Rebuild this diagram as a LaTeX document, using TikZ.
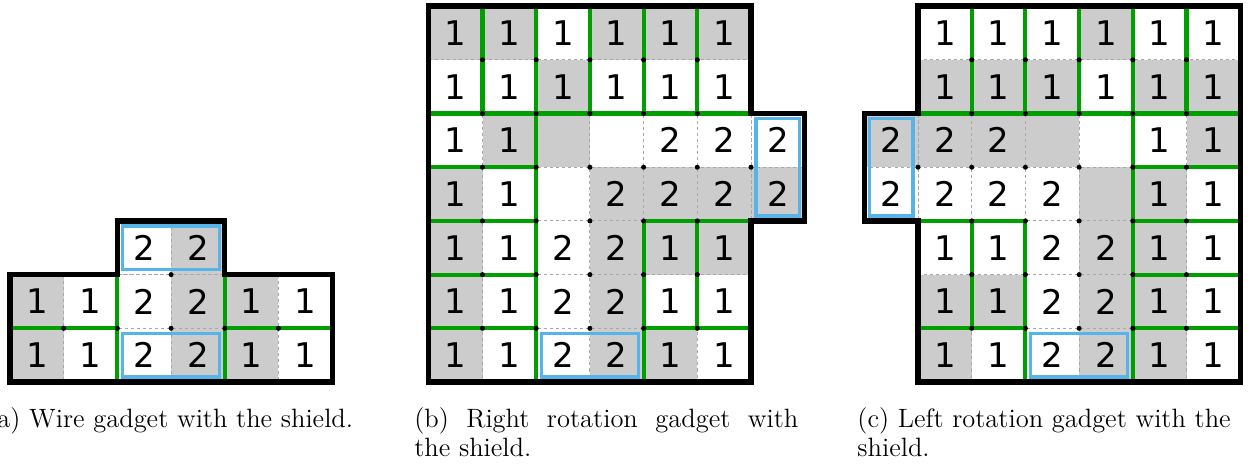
\documentclass[tikz,border=0pt]{standalone}
\usepackage{fontspec}
\newfontfamily\dejavu{DejaVu Sans}
\definecolor{cellgray}{HTML}{CCCCCC}
\definecolor{dashgray}{HTML}{A8A8A8}
\definecolor{wallgreen}{RGB}{0,160,0}
\definecolor{shieldblue}{RGB}{86,180,233}
\tikzset{
  num/.style={font=\dejavu\fontsize{18}{18}\selectfont, inner sep=0pt},
  gridl/.style={draw=dashgray, line width=0.45pt, dash pattern=on 1.6pt off 1.6pt},
  wall/.style={draw=wallgreen, line width=2.2pt, line cap=rect},
  shieldbox/.style={draw=shieldblue, line width=1.8pt},
  outline/.style={draw=black, line width=2.8pt, line join=miter},
  captext/.style={font=\fontsize{14.05}{15}\selectfont, inner sep=0pt},
}
\def\ins{0.095}
\def\dotr{0.047}
\begin{document}
\begin{tikzpicture}
\useasboundingbox (0,0) rectangle (23.296,8.715);

% ---------------- (a) wire gadget ----------------
\begin{scope}[shift={(0.186,4.601)}, yscale=-1]
  \foreach \c/\r in {3/0,0/1,3/1,4/1,0/2,3/2,4/2}
    \fill[cellgray] (\c,\r) rectangle ++(1,1);
  \draw[gridl] (0,1) grid (6,3);
  \draw[gridl] (2,0) grid (4,1);
  \draw[wall] (0,2) -- (2,2);
  \draw[wall] (4,2) -- (6,2);
  \draw[wall] (2,1) -- (2,3);
  \draw[wall] (4,1) -- (4,3);
  \foreach \x/\y in {3/1,1/2,2/2,3/2,4/2,5/2}
    \fill (\x,\y) circle (\dotr);
  \node[num] (a-2-0) at (2.5,0.5) {2};
  \node[num] (a-3-0) at (3.5,0.5) {2};
  \foreach \r in {1,2}
    \foreach \c/\n in {0/1,1/1,2/2,3/2,4/1,5/1}
      \node[num] (a-\c-\r) at (\c+0.5,\r+0.5) {\n};
  \draw[shieldbox] (2+\ins,0+\ins) rectangle (4-\ins,1-\ins);
  \draw[shieldbox] (2+\ins,2+\ins) rectangle (4-\ins,3-\ins);
  \draw[outline] (0,1) -- (2,1) -- (2,0) -- (4,0) -- (4,1) -- (6,1) -- (6,3) -- (0,3) -- cycle;
\end{scope}

% ---------------- (b) right rotation gadget ----------------
\begin{scope}[shift={(7.985,8.601)}, yscale=-1]
  \foreach \c/\r in {0/0,1/0,3/0,4/0,5/0, 2/1, 1/2,2/2, 0/3,3/3,4/3,5/3,6/3,
                     0/4,3/4,4/4,5/4, 0/5,3/5, 0/6,3/6,4/6}
    \fill[cellgray] (\c,\r) rectangle ++(1,1);
  \draw[gridl] (0,0) grid (6,7);
  \draw[gridl] (6,2) grid (7,4);
  \foreach \x in {1,...,5} \draw[wall] (\x,0) -- (\x,2);
  \draw[wall] (0,2) -- (6,2);
  \draw[wall] (2,2) -- (2,7);
  \draw[wall] (0,3) -- (2,3);
  \draw[wall] (0,4) -- (2,4);
  \draw[wall] (4,4) -- (6,4);
  \draw[wall] (4,4) -- (4,7);
  \draw[wall] (5,4) -- (5,6);
  \draw[wall] (0,5) -- (2,5);
  \draw[wall] (0,6) -- (2,6);
  \draw[wall] (4,6) -- (6,6);
  \foreach \x in {1,...,5} \foreach \y in {1,...,6}
    \fill (\x,\y) circle (\dotr);
  \fill (6,3) circle (\dotr);
  \foreach \r in {0,1}
    \foreach \c in {0,...,5}
      \node[num] (b-\c-\r) at (\c+0.5,\r+0.5) {1};
  \foreach \c/\n in {0/1,1/1,4/2,5/2,6/2}
    \node[num] (b-\c-2) at (\c+0.5,2.5) {\n};
  \foreach \c/\n in {0/1,1/1,3/2,4/2,5/2,6/2}
    \node[num] (b-\c-3) at (\c+0.5,3.5) {\n};
  \foreach \r in {4,5,6}
    \foreach \c/\n in {0/1,1/1,2/2,3/2,4/1,5/1}
      \node[num] (b-\c-\r) at (\c+0.5,\r+0.5) {\n};
  \draw[shieldbox] (6+\ins,2+\ins) rectangle (7-\ins,4-\ins);
  \draw[shieldbox] (2+\ins,6+\ins) rectangle (4-\ins,7-\ins);
  \draw[outline] (0,0) -- (6,0) -- (6,2) -- (7,2) -- (7,4) -- (6,4) -- (6,7) -- (0,7) -- cycle;
\end{scope}

% ---------------- (c) left rotation gadget ----------------
\begin{scope}[shift={(17.095,8.601)}, yscale=-1]
  \foreach \c/\r in {3/0, 0/1,1/1,2/1,4/1,5/1, -1/2,0/2,1/2,2/2,5/2, 3/3,4/3,
                     3/4,4/4, 0/5,1/5,3/5,4/5, 0/6,3/6,4/6}
    \fill[cellgray] (\c,\r) rectangle ++(1,1);
  \draw[gridl] (0,0) grid (6,7);
  \draw[gridl] (-1,2) grid (0,4);
  \foreach \x in {1,...,5} \draw[wall] (\x,0) -- (\x,2);
  \draw[wall] (0,2) -- (6,2);
  \draw[wall] (4,2) -- (4,7);
  \draw[wall] (4,3) -- (6,3);
  \draw[wall] (0,4) -- (2,4);
  \draw[wall] (4,4) -- (6,4);
  \draw[wall] (1,4) -- (1,6);
  \draw[wall] (2,4) -- (2,7);
  \draw[wall] (4,5) -- (6,5);
  \draw[wall] (0,6) -- (2,6);
  \draw[wall] (4,6) -- (6,6);
  \foreach \x in {1,...,5} \foreach \y in {1,...,6}
    \fill (\x,\y) circle (\dotr);
  \fill (0,3) circle (\dotr);
  \foreach \r in {0,1}
    \foreach \c in {0,...,5}
      \node[num] (c-\c-\r) at (\c+0.5,\r+0.5) {1};
  \foreach \c/\n in {-1/2,0/2,1/2,4/1,5/1}
    \node[num] (c-\c-2) at (\c+0.5,2.5) {\n};
  \foreach \c/\n in {-1/2,0/2,1/2,2/2,4/1,5/1}
    \node[num] (c-\c-3) at (\c+0.5,3.5) {\n};
  \foreach \r in {4,5,6}
    \foreach \c/\n in {0/1,1/1,2/2,3/2,4/1,5/1}
      \node[num] (c-\c-\r) at (\c+0.5,\r+0.5) {\n};
  \draw[shieldbox] (-1+\ins,2+\ins) rectangle (0-\ins,4-\ins);
  \draw[shieldbox] (2+\ins,6+\ins) rectangle (4-\ins,7-\ins);
  \draw[outline] (0,0) -- (6,0) -- (6,7) -- (0,7) -- (0,4) -- (-1,4) -- (-1,2) -- (0,2) -- cycle;
\end{scope}

% ---------------- captions ----------------
\node[captext, anchor=base] (capA) at (3.17,0.745) {(a) Wire gadget with the shield.};
\node[captext, anchor=base west] (capB1) at (7.709,0.745) {\makebox[7.151cm][s]{(b) Right rotation gadget with}};
\node[captext, anchor=base west] (capB2) at (7.709,0.205) {the shield.};
\node[captext, anchor=base west] (capC1) at (15.96,0.745) {(c) Left rotation gadget with the};
\node[captext, anchor=base west] (capC2) at (15.96,0.205) {shield.};
\end{tikzpicture}
\end{document}
